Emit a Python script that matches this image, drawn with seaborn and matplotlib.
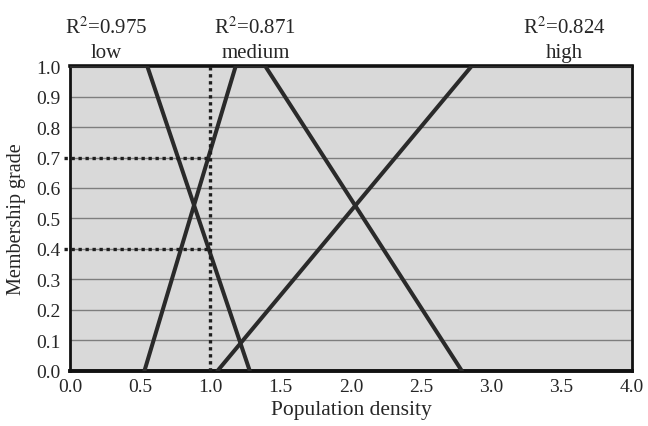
import matplotlib
matplotlib.use("Agg")
import matplotlib.pyplot as plt
import seaborn as sns
import pandas as pd

# Membership function vertices (Population density, membership grade)
low_x = [0.0, 0.55, 1.28]
low_y = [1.0, 1.0, 0.0]
medium_x = [0.53, 1.18, 1.39, 2.79]
medium_y = [0.0, 1.0, 1.0, 0.0]
high_x = [1.05, 2.86, 4.0]
high_y = [0.0, 1.0, 1.0]

labels = ["R$^2$=0.975\nlow", "R$^2$=0.871\nmedium", "R$^2$=0.824\nhigh"]
label_x = [0.26, 1.32, 3.52]

guide_x = 1.0
guide_levels = [0.7, 0.4]

xticks = [0.0, 0.5, 1.0, 1.5, 2.0, 2.5, 3.0, 3.5, 4.0]
yticks = [0.0, 0.1, 0.2, 0.3, 0.4, 0.5, 0.6, 0.7, 0.8, 0.9, 1.0]

sns.set_theme(style="white")
plt.rcParams['font.family'] = ['Liberation Serif', 'DejaVu Serif']
plt.rcParams['mathtext.fontset'] = 'stix'

df = pd.concat([
    pd.DataFrame({"x": low_x, "y": low_y, "set": "low"}),
    pd.DataFrame({"x": medium_x, "y": medium_y, "set": "medium"}),
    pd.DataFrame({"x": high_x, "y": high_y, "set": "high"}),
])

fig = plt.figure(figsize=(6.48, 4.27), dpi=100)
ax = fig.add_axes([0.108, 0.129, 0.867, 0.714])
ax.set_facecolor('#d9d9d9')

for y in yticks[1:-1]:
    ax.axhline(y, color='#7e7e7e', lw=1.0, zorder=1)

sns.lineplot(data=df, x="x", y="y", units="set", estimator=None, sort=False,
             color='#2a2a2a', lw=2.9, ax=ax, zorder=3)

ax.plot([guide_x, guide_x], [0, 1], color='#1e1e1e', lw=2.4, ls=(0, (1, 1.1)), zorder=4)
for lv in guide_levels:
    ax.plot([-0.04, guide_x], [lv, lv], color='#1e1e1e', lw=2.4, ls=(0, (1, 1.1)),
            zorder=4, clip_on=False)

ax.set_xlim(0, 4)
ax.set_ylim(0, 1)
ax.set_xticks(xticks)
ax.set_xticklabels([f"{v:.1f}" for v in xticks], fontsize=14)
ax.set_yticks(yticks)
ax.set_yticklabels([f"{v:.1f}" for v in yticks], fontsize=14)
ax.tick_params(axis='x', direction='in', length=4, width=1, color='#666666', pad=5)
ax.tick_params(axis='y', length=0, pad=7)
ax.set_xlabel("Population density", fontsize=15.5, labelpad=4)
ax.set_ylabel("Membership grade", fontsize=14.5, labelpad=7)

for sp in ax.spines.values():
    sp.set_color('#111111')
    sp.set_linewidth(2.0)
ax.spines['top'].set_linewidth(2.6)
ax.spines['bottom'].set_linewidth(2.8)

for lx, lab in zip(label_x, labels):
    ax.text(lx, 1.012, lab, ha='center', va='bottom', fontsize=15,
            linespacing=1.4, transform=ax.transData)

fig.savefig("out.png", dpi=100)
